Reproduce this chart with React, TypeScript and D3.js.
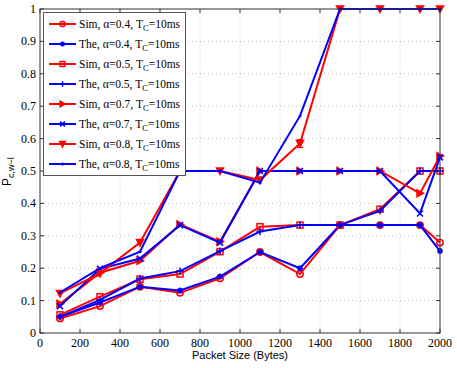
import React from 'react';
import * as d3 from 'd3';

// packet sizes (x) and the measured / theoretical probabilities
const packetSizes = [100, 300, 500, 700, 900, 1100, 1300, 1500, 1700, 1900, 2000];

const simA04 = [0.045, 0.083, 0.143, 0.124, 0.169, 0.25, 0.182, 0.333, 0.333, 0.333, 0.279];
const theA04 = [0.05, 0.094, 0.143, 0.131, 0.174, 0.25, 0.2, 0.333, 0.333, 0.333, 0.253];
const simA05 = [0.056, 0.112, 0.166, 0.182, 0.251, 0.328, 0.333, 0.333, 0.382, 0.5, 0.5];
const theA05 = [0.05, 0.102, 0.168, 0.191, 0.253, 0.313, 0.333, 0.333, 0.377, 0.5, 0.5];
const simA07 = [0.09, 0.186, 0.223, 0.335, 0.282, 0.5, 0.5, 0.5, 0.5, 0.431, 0.546];
const theA07 = [0.083, 0.198, 0.23, 0.333, 0.279, 0.5, 0.5, 0.5, 0.5, 0.369, 0.542];
const simA08 = [0.122, 0.184, 0.279, 0.5, 0.5, 0.472, 0.585, 1, 1, 1, 1];
const theA08 = [0.125, 0.2, 0.251, 0.5, 0.5, 0.464, 0.67, 1, 1, 1, 1];

// the one visible error bar (sim, alpha=0.8, 1300 bytes)
const errorBars = [{ x: 1300, lo: 0.573, hi: 0.597 }];

const xTicks = [0, 200, 400, 600, 800, 1000, 1200, 1400, 1600, 1800, 2000];
const yTicks = [0, 0.1, 0.2, 0.3, 0.4, 0.5, 0.6, 0.7, 0.8, 0.9, 1];

const series = [
    { kind: 'Sim', alpha: '0.4', values: simA04, color: '#ff0000', marker: 'circle' },
    { kind: 'The', alpha: '0.4', values: theA04, color: '#0000ff', marker: 'star' },
    { kind: 'Sim', alpha: '0.5', values: simA05, color: '#ff0000', marker: 'square' },
    { kind: 'The', alpha: '0.5', values: theA05, color: '#0000ff', marker: 'plus' },
    { kind: 'Sim', alpha: '0.7', values: simA07, color: '#ff0000', marker: 'triRight' },
    { kind: 'The', alpha: '0.7', values: theA07, color: '#0000ff', marker: 'cross' },
    { kind: 'Sim', alpha: '0.8', values: simA08, color: '#ff0000', marker: 'triDown' },
    { kind: 'The', alpha: '0.8', values: theA08, color: '#0000ff', marker: 'dot' },
];

const W = 457, H = 368;
const left = 40, right = 440, top = 9, bottom = 333;

const serif = { fontFamily: 'Liberation Serif' };
const sans = { fontFamily: 'Liberation Sans' };

function Marker({ type, x, y, color, k = 1 }: { type: string; x: number; y: number; color: string; k?: number }) {
    const s = { stroke: color, strokeWidth: 1.5, fill: 'none' };
    switch (type) {
        case 'circle':
            return <circle cx={x} cy={y} r={3.2 * k} {...s} />;
        case 'square':
            return <rect x={x - 3 * k} y={y - 3 * k} width={6 * k} height={6 * k} {...s} />;
        case 'triRight':
            return <polygon points={`${x - 3 * k},${y - 3.5 * k} ${x + 3.5 * k},${y} ${x - 3 * k},${y + 3.5 * k}`} {...s} fill={color} />;
        case 'triDown':
            return <polygon points={`${x - 3.5 * k},${y - 3 * k} ${x + 3.5 * k},${y - 3 * k} ${x},${y + 3.5 * k}`} {...s} fill={color} />;
        case 'plus':
            return <path d={`M${x - 3.5 * k},${y}H${x + 3.5 * k}M${x},${y - 3.5 * k}V${y + 3.5 * k}`} {...s} />;
        case 'cross':
            return <path d={`M${x - 3 * k},${y - 3 * k}L${x + 3 * k},${y + 3 * k}M${x - 3 * k},${y + 3 * k}L${x + 3 * k},${y - 3 * k}`} {...s} />;
        case 'star':
            return <path d={`M${x - 3 * k},${y}H${x + 3 * k}M${x},${y - 3 * k}V${y + 3 * k}M${x - 2.2 * k},${y - 2.2 * k}L${x + 2.2 * k},${y + 2.2 * k}M${x - 2.2 * k},${y + 2.2 * k}L${x + 2.2 * k},${y - 2.2 * k}`} {...s} />;
        default:
            return <circle cx={x} cy={y} r={1.5} fill={color} />;
    }
}

export default function App() {
    const x = d3.scaleLinear().domain([0, 2000]).range([left, right]);
    const y = d3.scaleLinear().domain([0, 1]).range([bottom, top]);

    const line = d3.line<number>()
        .x((d, i) => x(packetSizes[i]))
        .y(d => y(d));

    // legend
    const lgX = 43.5, lgY = 12.5, lgW = 142, lgH = 163, lgRow = 20;

    return (
        <svg width={W} height={H} style={{ position: 'absolute', left: 0, top: 0, background: 'white' }}>
            <rect x={0} y={0} width={W} height={H} fill="white" />

            {/* grid */}
            {xTicks.slice(1, -1).map(t => (
                <line key={'gx' + t} x1={x(t)} x2={x(t)} y1={top} y2={bottom}
                    stroke="#b0b0b0" strokeWidth={0.8} strokeDasharray="1,3" />
            ))}
            {yTicks.slice(1, -1).map(t => (
                <line key={'gy' + t} x1={left} x2={right} y1={y(t)} y2={y(t)}
                    stroke="#b0b0b0" strokeWidth={0.8} strokeDasharray="1,3" />
            ))}

            {/* series */}
            {series.map((s, i) => (
                <g key={'s' + i}>
                    <path d={line(s.values) || ''} fill="none" stroke={s.color} strokeWidth={2} />
                    {s.values.map((v, j) => (
                        <Marker key={j} type={s.marker} x={x(packetSizes[j])} y={y(v)} color={s.color} />
                    ))}
                </g>
            ))}
            {errorBars.map((e, i) => (
                <path key={'e' + i}
                    d={`M${x(e.x) - 3},${y(e.hi)}H${x(e.x) + 3}M${x(e.x)},${y(e.hi)}V${y(e.lo)}M${x(e.x) - 3},${y(e.lo)}H${x(e.x) + 3}`}
                    stroke="#ff0000" strokeWidth={1.2} fill="none" />
            ))}

            {/* axes box and ticks */}
            <rect x={left} y={top} width={right - left} height={bottom - top} fill="none" stroke="#333" strokeWidth={1} />
            {xTicks.map(t => (
                <g key={'tx' + t}>
                    <line x1={x(t)} x2={x(t)} y1={bottom} y2={bottom - 4} stroke="#333" />
                    <line x1={x(t)} x2={x(t)} y1={top} y2={top + 4} stroke="#333" />
                    <text x={x(t)} y={347} textAnchor="middle" style={serif} fontSize={12}>{t}</text>
                </g>
            ))}
            {yTicks.map(t => (
                <g key={'ty' + t}>
                    <line x1={left} x2={left + 4} y1={y(t)} y2={y(t)} stroke="#333" />
                    <line x1={right} x2={right - 4} y1={y(t)} y2={y(t)} stroke="#333" />
                    <text x={36} y={y(t) + 4} textAnchor="end" style={serif} fontSize={12}>{t}</text>
                </g>
            ))}

            <text x={(left + right) / 2} y={359} textAnchor="middle" style={sans} fontSize={11}>Packet Size (Bytes)</text>
            <text transform={`translate(11,186) rotate(-90)`} style={sans} fontSize={12}>
                P<tspan fontSize={9} dy={3}>c,w−l</tspan>
            </text>

            {/* legend */}
            <rect x={lgX} y={lgY} width={lgW} height={lgH} fill="white" stroke="#555" strokeWidth={1} />
            {series.map((s, i) => {
                const cy = 24 + i * lgRow;
                return (
                    <g key={'lg' + i}>
                        <line x1={49} x2={76} y1={cy} y2={cy} stroke={s.color} strokeWidth={2} />
                        <Marker type={s.marker} x={62.5} y={cy} color={s.color} k={0.8} />
                        <text x={79} y={cy + 3.5} style={serif} fontSize={11.5}>
                            {s.kind}, α={s.alpha}, T<tspan fontSize={8.5} dy={3}>C</tspan><tspan dy={-3}>=10ms</tspan>
                        </text>
                    </g>
                );
            })}
        </svg>
    );
}
